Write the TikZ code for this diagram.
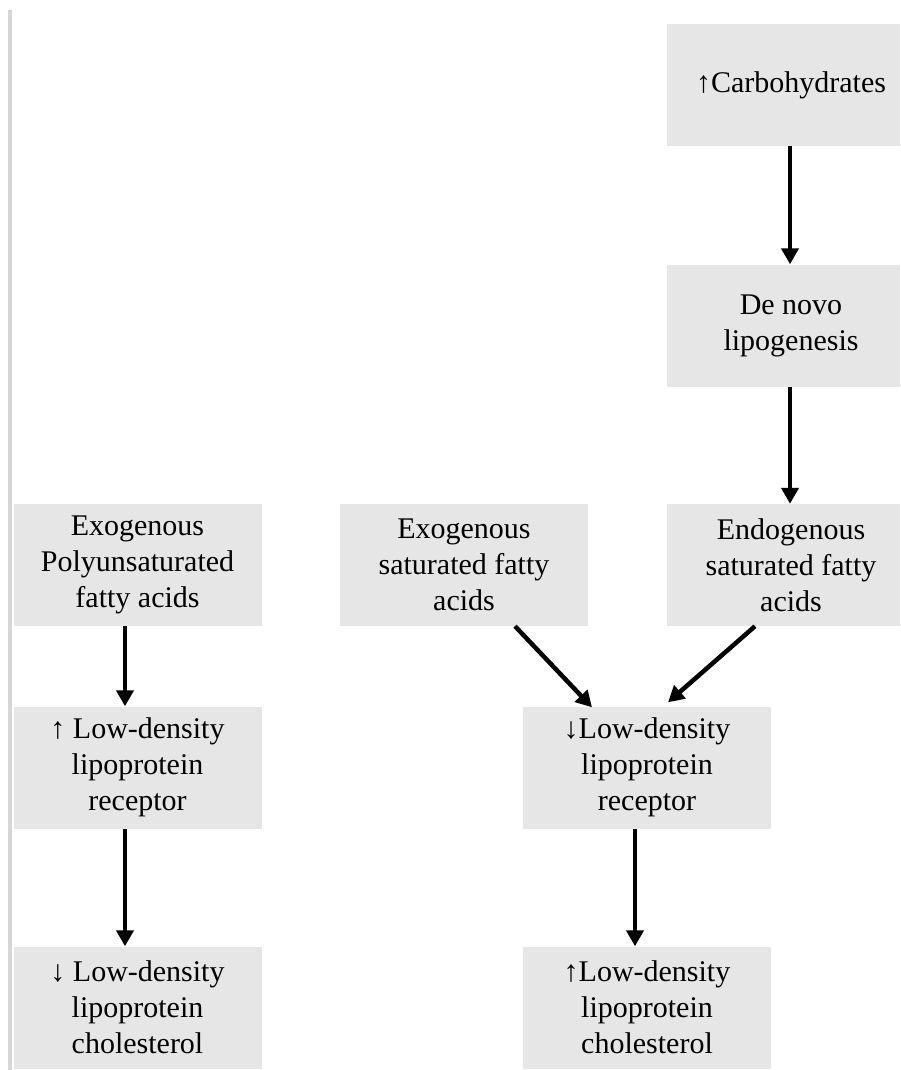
\documentclass[tikz,border=0pt]{standalone}
\usepackage{fontspec}
\setmainfont{Liberation Serif}
\usetikzlibrary{arrows.meta}
\begin{document}
\begin{tikzpicture}[x=1pt,y=-1pt,
  box/.style={fill=boxgray, minimum width=248pt, minimum height=122pt,
    inner sep=0pt, align=center, font=\fontsize{30}{36}\selectfont},
  flow/.style={line width=4.5pt, -{Triangle[width=17pt,length=16pt]}}]
\definecolor{boxgray}{HTML}{E6E6E6}
\definecolor{rulegray}{HTML}{D6D6D6}
\useasboundingbox (0,0) rectangle (900,1070);
\clip (0,0) rectangle (900,1070);
\fill[white] (0,0) rectangle (900,1070);
% left margin rule
\fill[rulegray] (8,10) rectangle (12,1070);

% right branch
\node[box] (carb)  at (791,85)    {↑Carbohydrates};
\node[box] (dnl)   at (791,325.5) {De novo\\lipogenesis};
\node[box] (endo)  at (791,565)   {Endogenous\\saturated fatty\\acids};
\node[box] (exos)  at (464,565)   {Exogenous\\saturated fatty\\acids};
\node[box] (ldlrd) at (647,767.5) {↓Low-density\\lipoprotein\\receptor};
\node[box] (ldlcu) at (647,1007.5){↑Low-density\\lipoprotein\\cholesterol};

% left branch
\node[box] (pufa)  at (137.5,565)   {Exogenous\\Polyunsaturated\\fatty acids};
\node[box] (ldlru) at (137.5,767.5) {↑ Low-density\\lipoprotein\\receptor};
\node[box] (ldlcd) at (137.5,1007.5){↓ Low-density\\lipoprotein\\cholesterol};

% connectors
\draw[flow] ([xshift=-1pt]carb.south) -- ([xshift=-1pt]dnl.north);
\draw[flow] ([xshift=-1pt]dnl.south) -- ([xshift=-1pt]endo.north);
\draw[flow] ([xshift=51pt]exos.south) -- ([xshift=-55pt,yshift=-1pt]ldlrd.north);
\draw[flow] ([xshift=-36pt]endo.south) -- ([xshift=21pt,yshift=4pt]ldlrd.north);
\draw[flow] ([xshift=-12.5pt]pufa.south) -- ([xshift=-12.5pt]ldlru.north);
\draw[flow] ([xshift=-12.5pt]ldlru.south) -- ([xshift=-12.5pt]ldlcd.north);
\draw[flow] ([xshift=-12pt]ldlrd.south) -- ([xshift=-12pt]ldlcu.north);
\end{tikzpicture}
\end{document}
